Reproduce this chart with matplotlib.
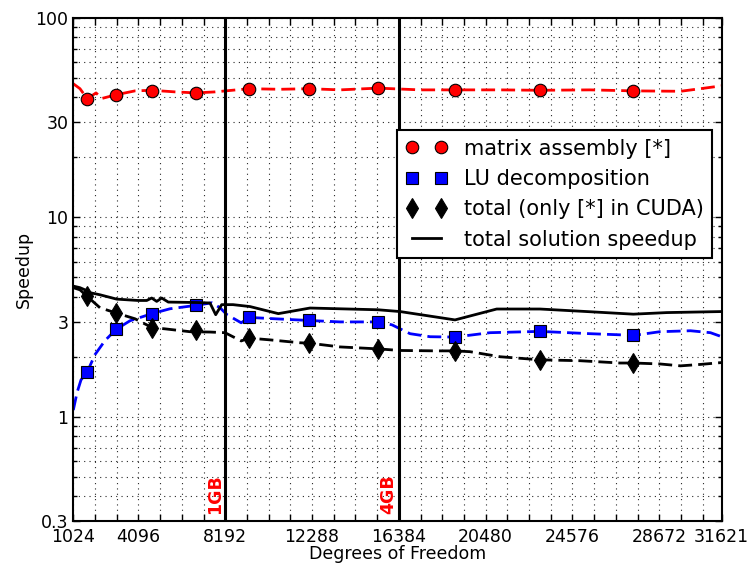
import matplotlib
matplotlib.use("Agg")
import matplotlib.pyplot as plt
from matplotlib.ticker import FixedLocator, FixedFormatter, LogLocator, NullFormatter
import matplotlib.transforms as mtransforms

# ---- measured speedups (dense sweeps) ----
dof_assembly = [1024, 1340, 1685, 2095, 2378, 3039, 3936, 4738, 5823, 6814, 7711,
                9315, 10778, 12147, 13610, 15403, 17386, 19036, 21159, 23047,
                25407, 27451, 29675, 30619, 31621]
speedup_assembly = [46.8, 44.2, 39.3, 42.1, 39.5, 41.2, 43.1, 43.4, 42.6, 42.1, 42.6,
                    44.2, 43.9, 44.2, 43.6, 44.5, 43.6, 43.6, 43.6, 43.4,
                    43.6, 43.1, 42.9, 44.2, 45.7]

dof_lu = [1024, 1199, 1387, 1685, 2048, 2520, 3039, 3700, 4738, 5587, 6814, 7569,
          7947, 8277, 8947, 9315, 10542, 12147, 13610, 15403, 16064, 16914, 17858,
          19036, 20687, 23047, 25407, 27483, 28706, 30147, 31091, 31621]
speedup_lu = [1.08, 1.32, 1.53, 1.68, 2.05, 2.41, 2.74, 3.03, 3.29, 3.48, 3.62, 3.73,
              3.52, 3.25, 2.96, 3.15, 3.10, 3.04, 2.99, 2.99, 2.89, 2.61, 2.52,
              2.51, 2.64, 2.68, 2.61, 2.56, 2.67, 2.70, 2.64, 2.52]

dof_total = [1024, 1340, 1685, 2284, 3025, 3936, 4738, 5351, 6531, 7475, 8183,
             8947, 9315, 10306, 11722, 12147, 13610, 15403, 16442, 18188, 19036,
             19743, 21159, 23047, 24934, 26822, 27483, 28706, 29675, 30619, 31621]
speedup_total = [4.44, 4.33, 4.01, 3.52, 3.32, 3.10, 2.80, 2.76, 2.67, 2.66, 2.64,
                 2.40, 2.48, 2.43, 2.35, 2.34, 2.24, 2.19, 2.15, 2.14, 2.14,
                 2.12, 2.00, 1.93, 1.91, 1.86, 1.86, 1.84, 1.80, 1.83, 1.87]

dof_solution = [1104, 1340, 1576, 1812, 2284, 3072, 4077, 4488, 4724, 4960, 5196,
                5507, 6847, 7475, 7744, 8027, 8560, 9362, 10698, 12194, 15403,
                16442, 19036, 21003, 23047, 25251, 27451, 29026, 31621]
speedup_solution = [4.50, 4.44, 4.33, 4.19, 4.09, 3.89, 3.83, 3.83, 3.94, 3.79, 3.94,
                    3.76, 3.74, 3.72, 3.25, 3.65, 3.65, 3.57, 3.29, 3.51, 3.44,
                    3.37, 3.06, 3.47, 3.47, 3.37, 3.27, 3.33, 3.37]

# ---- sampled points shown with markers ----
dof_samples = [1685, 3025, 4750, 6815, 9315, 12160, 15400, 19040, 23050, 27440]
assembly_samples = [39.2, 41.2, 43.2, 42.1, 44.0, 44.0, 44.7, 43.6, 43.4, 43.1]
lu_samples = [1.68, 2.75, 3.27, 3.63, 3.15, 3.04, 2.99, 2.51, 2.68, 2.56]
total_samples = [4.01, 3.33, 2.80, 2.73, 2.48, 2.34, 2.19, 2.14, 1.93, 1.86]

# memory limits
mem_dof = [8192, 16384]
mem_labels = ["1GB", "4GB"]

x_ticks = [1024, 4096, 8192, 12288, 16384, 20480, 24576, 28672, 31621]
y_ticks = [0.3, 1, 3, 10, 30, 100]
y_ticklabels = ["0.3", "1", "3", "10", "30", "100"]

fig = plt.figure(figsize=(7.51, 5.65), dpi=100)
ax = fig.add_axes([73.3 / 751, 44 / 565, 648.4 / 751, 503 / 565])

dash = (0, (5, 2.2))
ax.plot(dof_assembly, speedup_assembly, color="red", lw=2, linestyle=dash)
ax.plot(dof_lu, speedup_lu, color="blue", lw=2, linestyle=dash)
ax.plot(dof_total, speedup_total, color="black", lw=2, linestyle=dash)

ax.plot(dof_samples, assembly_samples, "o", color="red", mec="black", mew=0.8,
        ms=9, label="matrix assembly [*]")
ax.plot(dof_samples, lu_samples, "s", color="blue", mec="black", mew=0.8,
        ms=8.5, label="LU decomposition")
ax.plot(dof_samples, total_samples, "d", color="black", mec="black", mew=0.8,
        ms=10, label="total (only [*] in CUDA)")
ax.plot(dof_solution, speedup_solution, "-", color="black", lw=2,
        label="total solution speedup")

trans = mtransforms.blended_transform_factory(ax.transData, ax.transAxes)
for xv, lab in zip(mem_dof, mem_labels):
    ax.axvline(xv, color="black", lw=2.2)
    ax.text(xv - 60, 0.014, lab, transform=trans, rotation=90, color="red",
            fontweight="bold", fontsize=12.5, ha="right", va="bottom")

ax.set_yscale("log")
ax.set_xlim(1024, 31621)
ax.set_ylim(0.3, 100)

grid_x = list(range(1024, 31621, 1024)) + [31621]
ax.xaxis.set_major_locator(FixedLocator(grid_x))
ax.xaxis.set_major_formatter(FixedFormatter(
    [str(v) if v in x_ticks else "" for v in grid_x]))

ax.yaxis.set_major_locator(FixedLocator(y_ticks))
ax.yaxis.set_major_formatter(FixedFormatter(y_ticklabels))
ax.yaxis.set_minor_locator(LogLocator(base=10, subs=(2, 3, 4, 5, 6, 7, 8, 9)))
ax.yaxis.set_minor_formatter(NullFormatter())

ax.tick_params(which="both", direction="in", top=True, right=True,
               labelsize=12.5, color="black")
ax.tick_params(which="major", length=5, width=1)
ax.tick_params(which="minor", length=3, width=1)
ax.tick_params(axis="x", pad=5)

grid_style = dict(color="black", linestyle=(0, (1, 3.8)), linewidth=0.8, alpha=0.85)
ax.grid(True, which="major", axis="both", **grid_style)
ax.grid(True, which="minor", axis="y", **grid_style)
ax.set_axisbelow(True)

for sp in ax.spines.values():
    sp.set_linewidth(1.5)

ax.set_xlabel("Degrees of Freedom", fontsize=12.5, labelpad=-1)
ax.set_ylabel("Speedup", fontsize=12.5, labelpad=2)

leg = ax.legend(loc="upper right", bbox_to_anchor=(0.985, 0.777),
                borderaxespad=0, numpoints=2, fontsize=15, fancybox=False,
                framealpha=1, edgecolor="black")
leg.get_frame().set_linewidth(1.5)

fig.savefig("out.png", dpi=100)
